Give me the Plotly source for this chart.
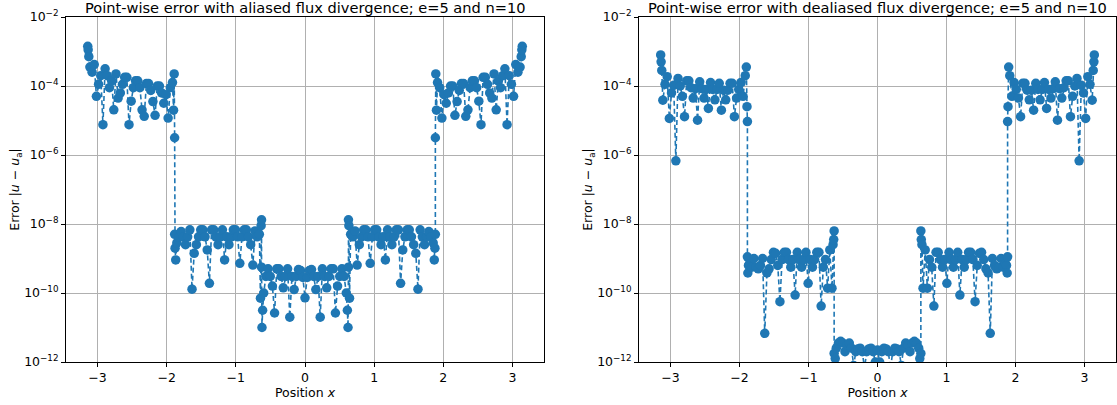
import numpy as np
import plotly.graph_objects as go

# element edges: e=5 elements on [-pi, pi]
n_elem = 5
edges = np.linspace(-np.pi, np.pi, n_elem + 1)

# local sample positions inside each element (reference coordinate in [-1, 1])
s_local = [-1.0, -0.99, -0.975, -0.95, -0.90, -0.85, -0.80, -0.75, -0.70, -0.65, -0.60,
           -0.55, -0.50, -0.45, -0.40, -0.35, -0.30, -0.25, -0.20, -0.15, -0.10, -0.05,
           0.0, 0.05, 0.10, 0.15, 0.20, 0.25, 0.30, 0.35, 0.40, 0.45, 0.50, 0.55, 0.60,
           0.65, 0.70, 0.75, 0.80, 0.85, 0.90, 0.95, 0.975, 0.99, 1.0]

# log10 of point-wise error, aliased flux divergence (one list per element)
alias_e1 = [-2.85, -2.95, -3.15, -3.45, -3.6, -3.38, -4.30, -3.95, -3.7, -5.12, -3.5,
            -3.7, -4.05, -3.85, -4.69, -3.65, -4.35, -4.2, -3.95, -3.75, -3.75, -5.12,
            -4.44, -4.05, -3.85, -3.85, -4.05, -4.69, -4.88, -3.93, -3.93, -4.13, -4.45,
            -4.85, -4.0, -4.0, -4.2, -4.5, -4.25, -4.93, -4.05, -3.9, -4.7, -3.65, -5.5]
alias_e2 = [-8.3, -8.7, -9.04, -8.55, -8.37, -8.22, -8.37, -8.6, -8.37, -8.17, -9.89,
            -8.85, -8.6, -8.37, -8.17, -8.17, -8.37, -8.75, -9.72, -8.17, -8.17, -8.37,
            -8.6, -8.37, -8.17, -9.04, -8.37, -8.6, -8.37, -8.17, -8.17, -8.37, -9.14,
            -8.37, -8.17, -8.17, -8.37, -8.6, -9.19, -8.2, -8.37, -8.3, -10.15, -8.05, -7.88]
alias_e3 = [-9.25, -11.0, -10.5, -10.0, -9.52, -9.3, -9.52, -9.8, -10.58, -9.3, -9.3,
            -9.52, -9.85, -9.52, -9.3, -10.70, -9.52, -9.9, -9.52, -9.32, -9.35, -9.55,
            -10.14, -9.55, -9.35, -9.32, -9.52, -9.9, -9.52, -10.70, -9.3, -9.52, -9.85,
            -9.52, -9.3, -9.3, -10.58, -9.8, -9.52, -9.3, -9.52, -10.0, -10.5, -11.0, -9.25]
alias_e4 = [-7.88, -8.05, -10.15, -8.3, -8.37, -8.2, -9.19, -8.6, -8.37, -8.17, -8.17,
            -8.37, -9.14, -8.37, -8.17, -8.17, -8.37, -8.6, -8.37, -9.04, -8.17, -8.37,
            -8.6, -8.37, -8.17, -8.17, -9.72, -8.75, -8.37, -8.17, -8.17, -8.37, -8.6,
            -8.85, -9.89, -8.17, -8.37, -8.6, -8.37, -8.22, -8.37, -8.55, -9.04, -8.7, -8.3]
alias_e5 = [-5.5, -3.65, -4.7, -3.9, -4.05, -4.93, -4.25, -4.5, -4.2, -4.0, -4.0,
            -4.85, -4.45, -4.13, -3.93, -3.93, -4.88, -4.69, -4.05, -3.85, -3.85, -4.05,
            -4.44, -5.12, -3.75, -3.75, -3.95, -4.2, -4.35, -3.65, -4.69, -3.85, -4.05,
            -3.7, -3.5, -5.12, -3.7, -3.95, -4.30, -3.38, -3.6, -3.45, -3.15, -2.95, -2.85]

# log10 of point-wise error, dealiased flux divergence (one list per element)
dealias_e1 = [-3.1, -3.3, -3.55, -4.41, -3.95, -3.73, -4.94, -4.2, -3.98, -6.17, -3.78,
              -4.0, -4.3, -4.89, -3.85, -3.85, -4.05, -4.35, -4.08, -4.99, -3.88, -4.08,
              -4.35, -4.1, -4.65, -3.9, -4.1, -4.4, -4.1, -3.92, -4.70, -4.12, -4.4,
              -4.12, -3.92, -3.92, -4.89, -4.35, -4.1, -3.9, -4.3, -3.7, -3.45, -4.6, -5.03]
dealias_e2 = [-8.95, -9.42, -9.2, -9.15, -9.25, -9.0, -9.25, -9.3, -9.2, -9.0, -11.17,
              -9.42, -9.3, -9.03, -8.82, -8.85, -9.2, -10.25, -9.03, -8.82, -8.82, -9.03,
              -9.25, -9.03, -10.06, -8.82, -9.03, -9.25, -9.03, -8.82, -9.72, -9.03, -9.25,
              -9.03, -8.82, -8.82, -10.38, -9.25, -9.03, -9.86, -8.75, -9.86, -8.6, -8.45, -8.2]
dealias_e3 = [-11.75, -12.3, -11.9, -11.6, -11.45, -11.4, -11.45, -11.7, -11.5, -11.45, -11.6,
              -12.1, -11.7, -11.62, -11.6, -11.7, -12.2, -11.7, -11.62, -11.6, -11.7, -12.0,
              -11.65, -12.0, -11.7, -11.6, -11.62, -11.7, -12.2, -11.7, -11.6, -11.62, -11.7,
              -12.1, -11.6, -11.45, -11.5, -11.7, -11.45, -11.4, -11.45, -11.6, -11.9, -12.3, -11.75]
dealias_e4 = [-8.2, -8.45, -8.6, -9.86, -8.75, -9.86, -9.03, -9.25, -10.38, -8.82, -8.82,
              -9.03, -9.25, -9.03, -9.72, -8.82, -9.03, -9.25, -9.03, -8.82, -10.06, -9.03,
              -9.25, -9.03, -8.82, -8.82, -9.03, -10.25, -9.2, -8.85, -8.82, -9.03, -9.3,
              -9.42, -11.17, -9.0, -9.2, -9.3, -9.25, -9.0, -9.25, -9.15, -9.2, -9.42, -8.95]
dealias_e5 = [-5.03, -4.6, -3.45, -3.7, -4.3, -3.9, -4.1, -4.35, -4.89, -3.92, -3.92,
              -4.12, -4.4, -4.12, -4.70, -3.92, -4.1, -4.4, -4.1, -3.9, -4.65, -4.1,
              -4.35, -4.08, -3.88, -4.99, -4.08, -4.35, -4.05, -3.85, -3.85, -4.89, -4.3,
              -4.0, -3.78, -6.17, -3.98, -4.2, -4.94, -3.73, -3.95, -4.41, -3.55, -3.3, -3.1]

titles = ["Point-wise error with aliased flux divergence; e=5 and n=10",
          "Point-wise error with dealiased flux divergence; e=5 and n=10"]
x_ticks = [-3, -2, -1, 0, 1, 2, 3]
x_tick_text = ["\u22123", "\u22122", "\u22121", "0", "1", "2", "3"]
y_ticks = [-12, -10, -8, -6, -4, -2]

panels = [[alias_e1, alias_e2, alias_e3, alias_e4, alias_e5],
          [dealias_e1, dealias_e2, dealias_e3, dealias_e4, dealias_e5]]

color = "#1f77b4"
W, H = 1117, 405
dom_left = [66 / W, 544 / W]
dom_right = [639 / W, 1116 / W]
font = "DejaVu Sans"

fig = go.Figure()
for p, elems in enumerate(panels):
    xs, ys = [], []
    for k, vals in enumerate(elems):
        a, b = edges[k], edges[k + 1]
        c, h = 0.5 * (a + b), 0.5 * (b - a)
        xs += [c + h * s for s in s_local]
        ys += [10.0 ** v for v in vals]
    axn = "" if p == 0 else "2"
    fig.add_trace(go.Scatter(
        x=xs, y=ys, mode="lines+markers",
        line=dict(color=color, width=1.6, dash="5px,3px"),
        marker=dict(color=color, size=9.5, line=dict(width=0)),
        xaxis="x" + axn, yaxis="y" + axn, showlegend=False))

axis_common = dict(showline=True, mirror=True, linecolor="black", linewidth=1,
                   ticks="outside", ticklen=4, tickwidth=1, tickcolor="black",
                   showgrid=True, gridcolor="#b0b0b0", gridwidth=1, zeroline=False,
                   tickfont=dict(family=font, size=12.5, color="black"))
xr = [-1.1 * np.pi, 1.1 * np.pi]
yt_text = ["10<sup>\u2212%d</sup>" % (-t) for t in y_ticks]
ytitle = "Error |<i>u</i> \u2212 <i>u</i><sub>a</sub>|"
for i, dom in enumerate([dom_left, dom_right]):
    sfx = "" if i == 0 else "2"
    fig.layout["xaxis" + sfx] = dict(axis_common, domain=dom, range=xr, tickvals=x_ticks,
                                      ticktext=x_tick_text, anchor="y" + sfx,
                                      title=dict(text="Position <i>x</i>", standoff=4,
                                                 font=dict(family=font, size=12.5, color="black")))
    fig.layout["yaxis" + sfx] = dict(axis_common, type="log", range=[-12, -2],
                                      tickvals=[10.0 ** t for t in y_ticks], ticktext=yt_text,
                                      anchor="x" + sfx, domain=[0, 1],
                                      title=dict(text=ytitle, standoff=1,
                                                 font=dict(family=font, size=12.5, color="black")))
    fig.add_annotation(text=titles[i], x=(dom[0] + dom[1]) / 2, y=1.0, xref="paper", yref="paper",
                       yshift=10, xanchor="center", yanchor="middle", showarrow=False,
                       font=dict(family=font, size=14.6, color="black"))

fig.update_layout(width=W, height=H, margin=dict(l=0, r=0, t=17, b=43),
                  plot_bgcolor="white", paper_bgcolor="white",
                  font=dict(family=font, color="black"))
fig.write_html("out.html")
